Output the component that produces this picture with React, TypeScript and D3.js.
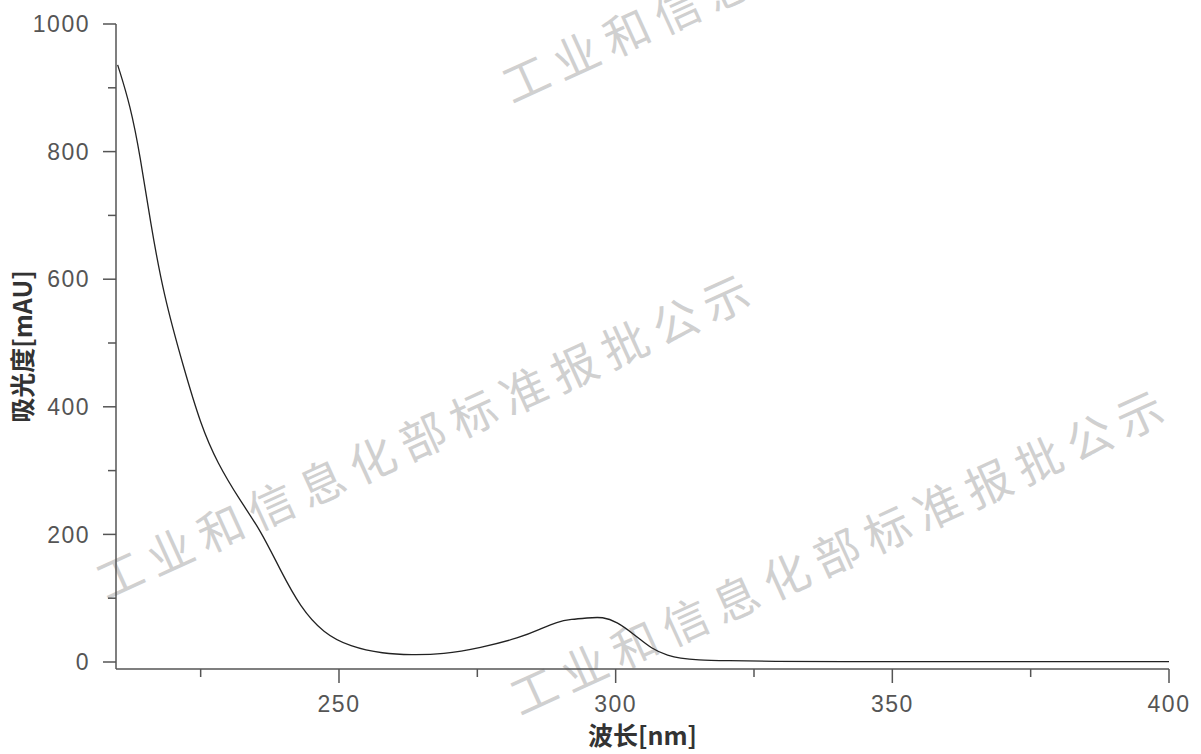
import React from "react";
import * as d3 from "d3";

// wavelength (nm) / absorbance (mAU)
const wavelength = [210, 212.3, 214.1, 215.9, 218.3, 221.9, 225, 228, 232.2, 235.8, 239.4, 243, 247.2, 252, 258, 263, 268.8, 275.5, 282.7, 286.5, 289.4, 292, 294.8, 297.7, 300.2, 303.1, 306.7, 309.5, 311.6, 314.7, 320, 328.4, 340, 360, 380, 400];
const absorbance = [936, 872, 792, 690, 575, 462, 372, 312, 252, 207, 144, 86, 45, 24, 13, 11, 12, 22, 38, 52, 63, 67, 69, 71, 63, 45, 19, 10, 6, 3, 2, 1, 0.5, 0.5, 0.5, 0.5];

const xMajor = [250, 300, 350, 400];
const xMinor = [225, 275, 325, 375];
const yMajor = [0, 200, 400, 600, 800, 1000];
const yMinor = [100, 300, 500, 700, 900];

const xTitle = "波长[nm]";
const yTitle = "吸光度[mAU]";
const watermark = "工业和信息化部标准报批公示";

const W = 1201;
const H = 754;
const axisY = 669;

export default function App() {
  const x = d3.scaleLinear().domain([209.7, 400]).range([116, 1169]);
  const y = d3.scaleLinear().domain([0, 1000]).range([662, 24]);

  const pts = wavelength.map((w, i) => [w, absorbance[i]] as [number, number]);
  const line = d3
    .line<[number, number]>()
    .x((d) => x(d[0]))
    .y((d) => y(d[1]))
    .curve(d3.curveBasis);

  const tickFont = "'Liberation Sans', Arial, sans-serif";
  const axisColor = "#555";

  const marks = [
    [106, 600],
    [520, 716],
    [512, 104],
  ];

  return (
    <svg width={W} height={H} style={{ position: "absolute", left: 0, top: 0, background: "#fff" }}>
      {/* watermarks */}
      {marks.map(([mx, my], i) => (
        <text
          key={i}
          transform={`translate(${mx},${my}) rotate(-24.5)`}
          fontFamily="'Noto Sans CJK SC', sans-serif"
          fontSize={46}
          letterSpacing={9.5}
          fill="#d0d0d0"
        >
          {watermark}
        </text>
      ))}

      {/* axes */}
      <line x1={x.range()[0]} x2={x.range()[0]} y1={y(1000)} y2={axisY} stroke={axisColor} strokeWidth={1.5} />
      <line x1={x.range()[0]} x2={x.range()[1]} y1={axisY} y2={axisY} stroke={axisColor} strokeWidth={1.5} />

      {yMajor.map((v) => (
        <g key={"ym" + v}>
          <line x1={103} x2={116} y1={y(v)} y2={y(v)} stroke={axisColor} strokeWidth={1.5} />
          <text
            x={90}
            y={y(v)}
            dy="0.36em"
            textAnchor="end"
            fontFamily={tickFont}
            fontSize={23}
            letterSpacing={1.5}
            fill="#555"
          >
            {v}
          </text>
        </g>
      ))}
      {yMinor.map((v) => (
        <line key={"yn" + v} x1={108} x2={116} y1={y(v)} y2={y(v)} stroke={axisColor} strokeWidth={1.5} />
      ))}

      {xMajor.map((v) => (
        <g key={"xm" + v}>
          <line x1={x(v)} x2={x(v)} y1={axisY} y2={axisY + 14} stroke={axisColor} strokeWidth={1.5} />
          <text
            x={x(v)}
            y={712}
            textAnchor="middle"
            fontFamily={tickFont}
            fontSize={23}
            letterSpacing={1.5}
            fill="#555"
          >
            {v}
          </text>
        </g>
      ))}
      {xMinor.map((v) => (
        <line key={"xn" + v} x1={x(v)} x2={x(v)} y1={axisY} y2={axisY + 8} stroke={axisColor} strokeWidth={1.5} />
      ))}

      {/* titles */}
      <text
        x={(x.range()[0] + x.range()[1]) / 2}
        y={745}
        textAnchor="middle"
        fontFamily="'Noto Sans CJK SC', 'Liberation Sans', sans-serif"
        fontWeight="bold"
        fontSize={25}
        fill="#333"
      >
        {xTitle}
      </text>
      <text
        transform={`translate(32,${(y(1000) + axisY) / 2}) rotate(-90)`}
        textAnchor="middle"
        fontFamily="'Noto Sans CJK SC', 'Liberation Sans', sans-serif"
        fontWeight="bold"
        fontSize={25}
        fill="#333"
      >
        {yTitle}
      </text>

      {/* spectrum */}
      <path d={line(pts) ?? ""} fill="none" stroke="#222" strokeWidth={1.3} />
    </svg>
  );
}
